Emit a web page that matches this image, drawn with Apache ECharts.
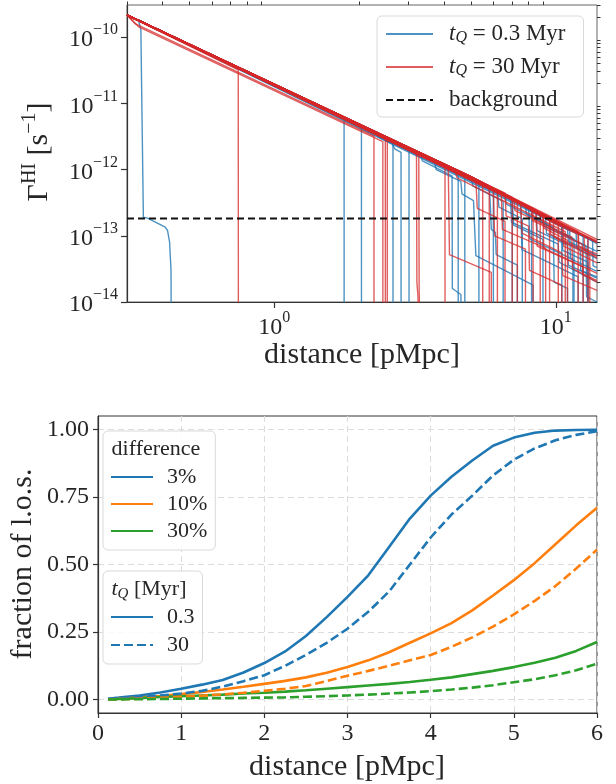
<!DOCTYPE html>
<html><head><meta charset="utf-8">
<script src="https://cdn.jsdelivr.net/npm/echarts@6/dist/echarts.min.js"></script>
<style>html,body{margin:0;padding:0;background:#fff}#c{width:616px;height:784px}</style>
</head><body><div id="c"></div><script>
// ---------------- DATA: top panel ----------------
const topXMajor = [1, 10];
const topXMajorExp = ['0', '1'];
const topXMinor = [0.3,0.4,0.5,0.6,0.7,0.8,0.9,2,3,4,5,6,7,8,9];
const topYMajor = [1e-14, 1e-13, 1e-12, 1e-11, 1e-10];
const topYMajorExp = ['\u221214', '\u221213', '\u221212', '\u221211', '\u221210'];
const topYMinor = [2e-14,3e-14,4e-14,5e-14,6e-14,7e-14,8e-14,9e-14,
  2e-13,3e-13,4e-13,5e-13,6e-13,7e-13,8e-13,9e-13,
  2e-12,3e-12,4e-12,5e-12,6e-12,7e-12,8e-12,9e-12,
  2e-11,3e-11,4e-11,5e-11,6e-11,7e-11,8e-11,9e-11,
  2e-10,3e-10];
const backgroundRate = 1.82e-13;
const bgLine = [[0.3, backgroundRate], [14, backgroundRate]];

// sightlines, t_Q = 0.3 Myr : [distance pMpc, Gamma_HI s^-1]
const blueLines = [
  [[0.3,2.16e-10],[0.33,1.75e-10],[0.336,1.3e-10],[0.34,3e-12],[0.343,1.9e-13],[0.355,1.85e-13],[0.41,1.35e-13],[0.418,1.2e-13],[0.425,8e-14],[0.43,3e-14],[0.431,1e-15]],
  [[0.3,2.15e-10],[1.2,1.33e-11],[1.77,6.0e-12],[1.771,1e-15]],
  [[0.3,2.16e-10],[2.04,4.5e-12],[2.041,1e-15]],
  [[0.3,2.14e-10],[2.3,3.5e-12],[2.34,3.1e-12],[2.62,2.45e-12],[2.68,2.05e-12],[2.82,1.82e-12],[2.821,1e-15]],
  [[0.3,2.16e-10],[3.01,2.08e-12],[3.011,1e-15]],
  [[0.3,2.15e-10],[3.3,1.7e-12],[3.36,1.35e-12],[4.28,8.0e-13],[4.29,1.6e-14],[4.6,1.3e-14],[4.62,1e-15]],
  [[0.3,2.16e-10],[4.5,9.2e-13],[4.501,1e-15]],
  [[0.3,2.15e-10],[3.7,1.35e-12],[3.76,1.0e-12],[4.6,6.6e-13],[4.64,4.3e-13],[5.1,3.4e-13],[5.14,1.5e-13],[5.2,5.0e-14],[6.4,3.2e-14],[8.3,1.8e-14],[8.31,1e-15]],
  [[0.3,2.16e-10],[4.75,8.4e-13],[4.751,1e-15]],
  [[0.3,2.15e-10],[5.33,6.5e-13],[5.331,1e-15]],
  [[0.3,2.17e-10],[5,7.6e-13],[6.0,5.1e-13],[6.001,1e-15]],
  [[0.3,2.16e-10],[5.0,7.4e-13],[5.08,5.6e-13],[6.5,3.3e-13],[6.501,1e-15]],
  [[0.3,2.17e-10],[5,7.7e-13],[7.0,3.75e-13],[7.001,1e-15]],
  [[0.3,2.15e-10],[6.2,4.6e-13],[6.28,2.7e-13],[7.6,1.8e-13],[7.601,1e-15]],
  [[0.3,2.17e-10],[5,7.8e-13],[8.2,2.6e-13],[8.201,1e-15]],
  [[0.3,2.15e-10],[7.0,3.6e-13],[7.08,1.45e-13],[9.0,8.8e-14],[9.001,1e-15]],
  [[0.3,2.16e-10],[5,7.6e-13],[9.5,1.75e-13],[10.5,1.4e-13],[10.501,1e-15]],
  [[0.3,2.15e-10],[8.0,2.75e-13],[8.08,9e-14],[10.0,5.8e-14],[11.5,4.4e-14],[11.501,1e-15]],
  [[0.3,2.16e-10],[5,7.5e-13],[10,1.5e-13],[12.5,9.8e-14],[12.501,1e-15]],
  [[0.3,2.17e-10],[5,7.7e-13],[10,1.55e-13],[14,8.0e-14]],
  [[0.3,2.15e-10],[9,2.0e-13],[9.08,1.4e-13],[14,5.8e-14]],
  [[0.3,2.14e-10],[8.5,2.35e-13],[8.58,1.2e-13],[11,7.2e-14],[11.08,3.6e-14],[14,2.3e-14]],
  [[0.3,2.16e-10],[5,7.4e-13],[10.5,1.4e-13],[10.58,6e-14],[13,4.0e-14],[13.001,1e-15]],
  [[0.3,2.15e-10],[11,1.25e-13],[11.08,8.2e-14],[14,5.0e-14]],
  [[0.3,2.17e-10],[5,7.8e-13],[12,1.1e-13],[14,7.6e-14]],
  [[0.3,2.15e-10],[7.5,3.1e-13],[7.58,6.2e-14],[9.5,3.9e-14],[12,2.4e-14],[12.001,1e-15]],
  [[0.3,2.16e-10],[5.8,5.6e-13],[5.86,2.6e-13],[5.9,1.25e-13],[6.1,1.12e-13],[6.14,5.2e-14],[7.3,3.6e-14],[7.301,1e-15]],
  [[0.3,2.15e-10],[5,7.5e-13],[13,9.0e-14],[13.001,1e-15]],
  [[0.3,2.16e-10],[6.6,4.3e-13],[6.66,3.0e-13],[9.8,1.35e-13],[9.86,2.0e-14],[11,1.6e-14],[11.001,1e-15]],
  [[0.3,2.17e-10],[5,7.7e-13],[11.8,1.12e-13],[11.86,6.5e-14],[14,4.5e-14]],
  [[0.3,2.16e-10],[2.64,2.75e-12],[2.641,1e-15]],
  [[0.3,2.16e-10],[5,7.6e-13],[9.2,1.9e-13],[9.26,1.1e-13],[12.2,6.2e-14],[12.26,3.0e-14],[14,2.4e-14]],
  [[0.3,2.15e-10],[6.9,3.8e-13],[6.96,1.6e-13],[10.2,7.5e-14],[10.26,4.0e-14],[14,2.0e-14]],
  [[0.3,2.17e-10],[5,7.7e-13],[11.2,1.2e-13],[11.26,4.5e-14],[14,2.9e-14]],
  [[0.3,2.16e-10],[8.8,2.2e-13],[8.86,1.6e-13],[12.8,7.0e-14],[12.86,1.2e-14],[14,1.0e-14]],
  [[0.3,2.15e-10],[5,7.5e-13],[13.5,8.4e-14],[13.56,3.5e-14],[14,3.3e-14]],
  [[0.3,2.16e-10],[7.8,2.9e-13],[7.86,2.1e-13],[11.6,9.0e-14],[11.601,1e-15]]
];
// sightlines, t_Q = 30 Myr
const redLines = [
  [[0.3,2.12e-10],[0.745,3.2e-11],[0.746,1e-15]],
  [[0.3,2.16e-10],[0.32,1.6e-10],[2.26,3.2e-12],[2.261,1e-15]],
  [[0.3,2.16e-10],[0.33,1.43e-10],[2.43,2.64e-12],[2.431,1e-15]],
  [[0.3,2.15e-10],[2.48,3.05e-12],[2.481,1e-15]],
  [[0.3,2.16e-10],[2.52,2.95e-12],[2.521,1e-15]],
  [[0.3,2.15e-10],[3.2,1.8e-12],[3.21,2e-14],[3.24,1.2e-14],[3.28,1e-15]],
  [[0.3,2.16e-10],[3.26,1.75e-12],[3.27,1.6e-14],[3.31,1e-15]],
  [[0.3,2.15e-10],[4.04,1.15e-12],[4.041,1e-15]],
  [[0.3,2.14e-10],[4.15,1.05e-12],[4.19,5.2e-14],[5.9,2.8e-14],[5.901,1e-15]],
  [[0.3,2.16e-10],[5.5,6.2e-13],[5.501,1e-15]],
  [[0.3,2.17e-10],[5,7.7e-13],[5.8,5.6e-13],[5.801,1e-15]],
  [[0.3,2.15e-10],[6.2,4.8e-13],[6.201,1e-15]],
  [[0.3,2.14e-10],[5.2,6.8e-13],[5.26,2.6e-13],[6.6,1.65e-13],[6.601,1e-15]],
  [[0.3,2.16e-10],[5,7.6e-13],[7.0,3.8e-13],[7.001,1e-15]],
  [[0.3,2.15e-10],[7.3,3.4e-13],[7.301,1e-15]],
  [[0.3,2.14e-10],[6.0,5.0e-13],[6.06,1.0e-13],[7.8,6.3e-14],[7.801,1e-15]],
  [[0.3,2.17e-10],[5,7.8e-13],[8.3,2.6e-13],[8.301,1e-15]],
  [[0.3,2.15e-10],[8.8,2.2e-13],[8.801,1e-15]],
  [[0.3,2.16e-10],[5,7.7e-13],[9.5,1.85e-13],[9.501,1e-15]],
  [[0.3,2.17e-10],[5,7.8e-13],[10.2,1.5e-13],[10.201,1e-15]],
  [[0.3,2.15e-10],[9,2.1e-13],[9.08,1.3e-13],[11,8.5e-14],[11.001,1e-15]],
  [[0.3,2.16e-10],[5,7.6e-13],[10,1.5e-13],[12,1.05e-13],[12.001,1e-15]],
  [[0.3,2.17e-10],[5,7.7e-13],[11,1.3e-13],[13,9.2e-14],[13.001,1e-15]],
  [[0.3,2.17e-10],[5,7.8e-13],[10,1.6e-13],[14,8.4e-14]],
  [[0.3,2.15e-10],[9.5,1.85e-13],[9.58,1.05e-13],[14,4.9e-14]],
  [[0.3,2.14e-10],[7.5,3.15e-13],[7.58,1.1e-13],[10.5,5.5e-14],[10.58,2.5e-14],[14,1.5e-14]],
  [[0.3,2.16e-10],[5,7.6e-13],[12,1.15e-13],[12.08,7e-14],[14,5.3e-14]],
  [[0.3,2.17e-10],[5,7.7e-13],[11.5,1.25e-13],[14,8.0e-14]],
  [[0.3,2.15e-10],[8.5,2.45e-13],[8.58,7e-14],[12.5,3.4e-14],[12.501,1e-15]],
  [[0.3,2.16e-10],[6.6,4.4e-13],[6.66,2.0e-13],[8.0,1.4e-13],[8.06,3.0e-14],[10.5,1.8e-14],[10.501,1e-15]],
  [[0.3,2.17e-10],[5,7.8e-13],[13.2,9.0e-14],[14,7.8e-14]],
  [[0.3,2.15e-10],[4.4,9.4e-13],[4.46,7.5e-13],[10.8,1.15e-13],[10.801,1e-15]],
  [[0.3,2.16e-10],[5,7.6e-13],[9.8,1.6e-13],[9.86,9.5e-14],[13.2,5.0e-14],[13.201,1e-15]],
  [[0.3,2.17e-10],[5,7.8e-13],[10.6,1.4e-13],[10.66,7.0e-14],[14,3.9e-14]],
  [[0.3,2.15e-10],[8.2,2.6e-13],[8.26,1.7e-13],[12.4,7.5e-14],[12.46,2.6e-14],[14,2.0e-14]],
  [[0.3,2.16e-10],[5,7.7e-13],[12.6,1.0e-13],[12.66,6.0e-14],[14,4.6e-14]],
  [[0.3,2.17e-10],[5,7.7e-13],[14,8.8e-14]],
  [[0.3,2.15e-10],[7.1,3.5e-13],[7.16,2.4e-13],[11.4,9.5e-14],[11.46,3.2e-14],[14,2.1e-14]],
  [[0.3,2.16e-10],[9.0,2.1e-13],[9.06,6.5e-14],[14,2.7e-14]],
  [[0.3,2.14e-10],[6.4,4.6e-13],[6.46,1.25e-13],[9.2,6.5e-14],[9.201,1e-15]]
];

// ---------------- DATA: bottom panel ----------------
const dist = [0.12,0.25,0.5,0.75,1.0,1.25,1.5,1.75,2.0,2.25,2.5,2.75,3.0,3.25,3.5,3.75,4.0,4.25,4.5,4.75,5.0,5.25,5.5,5.75,6.0];
const frac3_short  = [0.003,0.007,0.015,0.026,0.04,0.055,0.072,0.100,0.135,0.178,0.235,0.305,0.38,0.46,0.565,0.67,0.755,0.825,0.885,0.94,0.97,0.988,0.996,0.998,0.999];
const frac3_long   = [0.002,0.004,0.009,0.015,0.022,0.032,0.048,0.068,0.09,0.125,0.165,0.21,0.262,0.325,0.40,0.50,0.60,0.685,0.755,0.83,0.888,0.93,0.96,0.98,0.994];
const frac10_short = [0.001,0.003,0.007,0.013,0.02,0.028,0.037,0.047,0.058,0.069,0.082,0.099,0.12,0.145,0.175,0.21,0.245,0.283,0.33,0.385,0.442,0.505,0.575,0.645,0.71];
const frac10_long  = [0.0,0.001,0.003,0.006,0.01,0.014,0.019,0.025,0.032,0.04,0.05,0.068,0.088,0.106,0.125,0.145,0.165,0.195,0.23,0.27,0.315,0.365,0.42,0.485,0.555];
const frac30_short = [0.001,0.002,0.005,0.009,0.012,0.015,0.018,0.022,0.025,0.029,0.034,0.04,0.046,0.052,0.058,0.065,0.073,0.082,0.094,0.106,0.12,0.136,0.155,0.18,0.213];
const frac30_long  = [0.0,0.0005,0.001,0.002,0.003,0.004,0.005,0.006,0.007,0.008,0.01,0.012,0.015,0.018,0.022,0.026,0.031,0.037,0.044,0.053,0.064,0.075,0.09,0.108,0.133];
const botYTicks = [0, 0.25, 0.5, 0.75, 1.0];

// ---------------- STYLE ----------------
const FF = "'Liberation Serif','Times New Roman',serif";
const TC = '#262626';
const AX = '#333';
const BLUE = '#1f77b4', ORANGE = '#ff7f0e', GREEN = '#2ca02c', RED = '#d62728';
const supRich = {
  b: {fontSize: 24, fontFamily: FF, color: TC, lineHeight: 30, verticalAlign: 'bottom'},
  s: {fontSize: 16, fontFamily: FF, color: TC, lineHeight: 14, verticalAlign: 'top'}
};
function nearestIdx(arr, v) {
  let best = 0, bd = Infinity;
  arr.forEach((a, i) => { const d = Math.abs(Math.log(a) - Math.log(v)); if (d < bd) { bd = d; best = i; } });
  return best;
}
function zip(xs, ys) { return xs.map((x, i) => [x, ys[i]]); }

const chart = echarts.init(document.getElementById('c'), null, {renderer: 'canvas'});

const series = [];
blueLines.forEach(pts => series.push({
  type: 'line', name: 'tq03', xAxisIndex: 0, yAxisIndex: 0, data: pts, symbol: 'none',
  lineStyle: {color: BLUE, width: 1.4, opacity: 0.8}, itemStyle: {color: BLUE}, silent: true, z: 2
}));
redLines.forEach(pts => series.push({
  type: 'line', name: 'tq30', xAxisIndex: 0, yAxisIndex: 0, data: pts, symbol: 'none',
  lineStyle: {color: RED, width: 1.4, opacity: 0.75}, itemStyle: {color: RED}, silent: true, z: 3
}));
series.push({
  type: 'line', name: 'background', xAxisIndex: 0, yAxisIndex: 0, data: bgLine, symbol: 'none',
  lineStyle: {color: '#111', width: 2, type: [7, 4]}, itemStyle: {color: '#111'}, silent: true, z: 4
});
function botSeries(name, ys, color, dashed) {
  return {type: 'line', name, xAxisIndex: 2, yAxisIndex: 2, data: zip(dist, ys), symbol: 'none',
    lineStyle: {color, width: 2.6, type: dashed ? [9, 4] : 'solid'}, itemStyle: {color}, silent: true, z: 3};
}
series.push(botSeries('3%', frac3_short, BLUE, false));
series.push(botSeries('10%', frac10_short, ORANGE, false));
series.push(botSeries('30%', frac30_short, GREEN, false));
series.push(botSeries('3% long', frac3_long, BLUE, true));
series.push(botSeries('10% long', frac10_long, ORANGE, true));
series.push(botSeries('30% long', frac30_long, GREEN, true));
series.push(botSeries('0.3', [], BLUE, false));
series.push(botSeries('30', [], BLUE, true));

const noSymbol = {opacity: 0, color: 'transparent', borderWidth: 0};
const option = {
  backgroundColor: '#fff',
  animation: false,
  grid: [
    {left: 127, top: 5, width: 470, height: 297, show: true, borderColor: '#666', borderWidth: 1},
    {left: 98, top: 416, width: 499, height: 297, show: true, borderColor: '#333', borderWidth: 1}
  ],
  xAxis: [
    {gridIndex: 0, type: 'log', logBase: 10, min: 0.3, max: 14,
     axisLine: {show: true, onZero: false, lineStyle: {color: AX, width: 1.2}},
     axisTick: {show: true, length: 6, lineStyle: {color: AX, width: 1.2}, customValues: topXMajor},
     axisLabel: {customValues: topXMajor, margin: 8, rich: supRich,
       formatter: v => '{b|10}{s|' + topXMajorExp[nearestIdx(topXMajor, v)] + '}'},
     splitLine: {show: false}, minorTick: {show: false}},
    {gridIndex: 0, type: 'log', logBase: 10, min: 0.3, max: 14,
     axisLine: {show: false, onZero: false},
     axisTick: {show: true, length: 3.5, lineStyle: {color: AX, width: 1}, customValues: topXMinor},
     axisLabel: {show: false}, splitLine: {show: false}},
    {gridIndex: 1, type: 'value', min: 0, max: 6, interval: 1,
     axisLine: {show: true, onZero: false, lineStyle: {color: AX, width: 1.2}},
     axisTick: {show: true, length: 5, lineStyle: {color: AX, width: 1.2}},
     axisLabel: {margin: 9, fontSize: 24, fontFamily: FF, color: TC},
     splitLine: {show: true, lineStyle: {color: '#dcdcdc', width: 1, type: [6, 4]}}}
  ],
  yAxis: [
    {gridIndex: 0, type: 'log', logBase: 10, min: 1e-14, max: 3.05e-10,
     axisLine: {show: true, onZero: false, lineStyle: {color: AX, width: 1.2}},
     axisTick: {show: true, length: 6, lineStyle: {color: AX, width: 1.2}, customValues: topYMajor},
     axisLabel: {customValues: topYMajor, margin: 9, rich: supRich,
       formatter: v => '{b|10}{s|' + topYMajorExp[nearestIdx(topYMajor, v)] + '}'},
     splitLine: {show: false}},
    {gridIndex: 0, type: 'log', logBase: 10, min: 1e-14, max: 3.05e-10,
     axisLine: {show: false, onZero: false},
     axisTick: {show: true, length: 3.5, lineStyle: {color: AX, width: 1}, customValues: topYMinor},
     axisLabel: {show: false}, splitLine: {show: false}},
    {gridIndex: 1, type: 'value', min: -0.05, max: 1.05,
     axisLine: {show: true, onZero: false, lineStyle: {color: AX, width: 1.2}},
     axisTick: {show: true, length: 5, lineStyle: {color: AX, width: 1.2}, customValues: botYTicks},
     axisLabel: {customValues: botYTicks, margin: 9, fontSize: 24, fontFamily: FF, color: TC,
       formatter: v => v.toFixed(2)},
     splitLine: {show: true, lineStyle: {color: '#dcdcdc', width: 1, type: [6, 4]}}}
  ],
  legend: [
    {left: 377, top: 16, orient: 'vertical', selectedMode: false,
     data: ['tq03', 'tq30', 'background'],
     itemWidth: 47, itemHeight: 14, itemGap: 9, padding: [6, 18, 6, 8],
     backgroundColor: 'rgba(255,255,255,0.85)', borderColor: '#d9d9d9', borderWidth: 1, borderRadius: 5,
     lineStyle: {width: 2}, itemStyle: noSymbol,
     formatter: n => n === 'tq03' ? '{i|t}{q|Q}{r| = 0.3 Myr}' : n === 'tq30' ? '{i|t}{q|Q}{r| = 30 Myr}' : '{r|background}',
     textStyle: {fontFamily: FF, fontSize: 23, color: TC, padding: [0, 0, 0, 11],
       rich: {
         i: {fontFamily: FF, fontSize: 23, fontStyle: 'italic', color: TC, lineHeight: 24, verticalAlign: 'top'},
         q: {fontFamily: FF, fontSize: 16, fontStyle: 'italic', color: TC, lineHeight: 10, verticalAlign: 'bottom'},
         r: {fontFamily: FF, fontSize: 23, color: TC, lineHeight: 24, verticalAlign: 'top'}
       }},
     z: 10},
    {left: 103, top: 431, orient: 'vertical', selectedMode: false,
     data: ['3%', '10%', '30%'],
     itemWidth: 42, itemHeight: 14, itemGap: 5, padding: [35, 8, 8, 7],
     backgroundColor: 'rgba(255,255,255,0.85)', borderColor: '#d9d9d9', borderWidth: 1, borderRadius: 5,
     itemStyle: noSymbol,
     textStyle: {fontFamily: FF, fontSize: 22, color: TC, lineHeight: 22, padding: [0, 0, 0, 9]},
     z: 10},
    {left: 103, top: 571, orient: 'vertical', selectedMode: false,
     data: ['0.3', '30'],
     itemWidth: 42, itemHeight: 14, itemGap: 6, padding: [35, 8, 8, 7],
     backgroundColor: 'rgba(255,255,255,0.85)', borderColor: '#d9d9d9', borderWidth: 1, borderRadius: 5,
     itemStyle: noSymbol,
     textStyle: {fontFamily: FF, fontSize: 22, color: TC, lineHeight: 22, padding: [0, 0, 0, 9]},
     z: 10}
  ],
  graphic: [
    {type: 'text', x: 362, y: 355, z: 100, style: {text: 'distance [pMpc]', fontFamily: FF, fontSize: 30, fill: TC, textAlign: 'center', textVerticalAlign: 'middle'}},
    {type: 'text', x: 347, y: 767, z: 100, style: {text: 'distance [pMpc]', fontFamily: FF, fontSize: 30, fill: TC, textAlign: 'center', textVerticalAlign: 'middle'}},
    {type: 'text', x: 23, y: 564, rotation: Math.PI / 2, z: 100, style: {text: 'fraction of l.o.s.', fontFamily: FF, fontSize: 30, fill: TC, textAlign: 'center', textVerticalAlign: 'middle'}},
    {type: 'text', x: 37, y: 152, rotation: Math.PI / 2, z: 100, style: {
      text: '{g|\u0393}{h|HI}{g| [s}{h|\u22121}{g|]}', textAlign: 'center', textVerticalAlign: 'middle',
      rich: {
        g: {fontFamily: FF, fontSize: 30, fill: TC, lineHeight: 34, verticalAlign: 'bottom'},
        h: {fontFamily: FF, fontSize: 20, fill: TC, lineHeight: 18, verticalAlign: 'top'}
      }}},
    {type: 'text', x: 156, y: 449, z: 100, style: {text: 'difference', fontFamily: FF, fontSize: 22, fill: TC, textAlign: 'center', textVerticalAlign: 'middle'}},
    {type: 'text', x: 149, y: 590, z: 100, style: {
      text: '{i|t}{q|Q}{r| [Myr]}', textAlign: 'center', textVerticalAlign: 'middle',
      rich: {
        i: {fontFamily: FF, fontSize: 22, fontStyle: 'italic', fill: TC, lineHeight: 24, verticalAlign: 'top'},
        q: {fontFamily: FF, fontSize: 15, fontStyle: 'italic', fill: TC, lineHeight: 10, verticalAlign: 'bottom'},
        r: {fontFamily: FF, fontSize: 22, fill: TC, lineHeight: 24, verticalAlign: 'top'}
      }}}
  ],
  series
};
chart.setOption(option);
</script></body></html>
